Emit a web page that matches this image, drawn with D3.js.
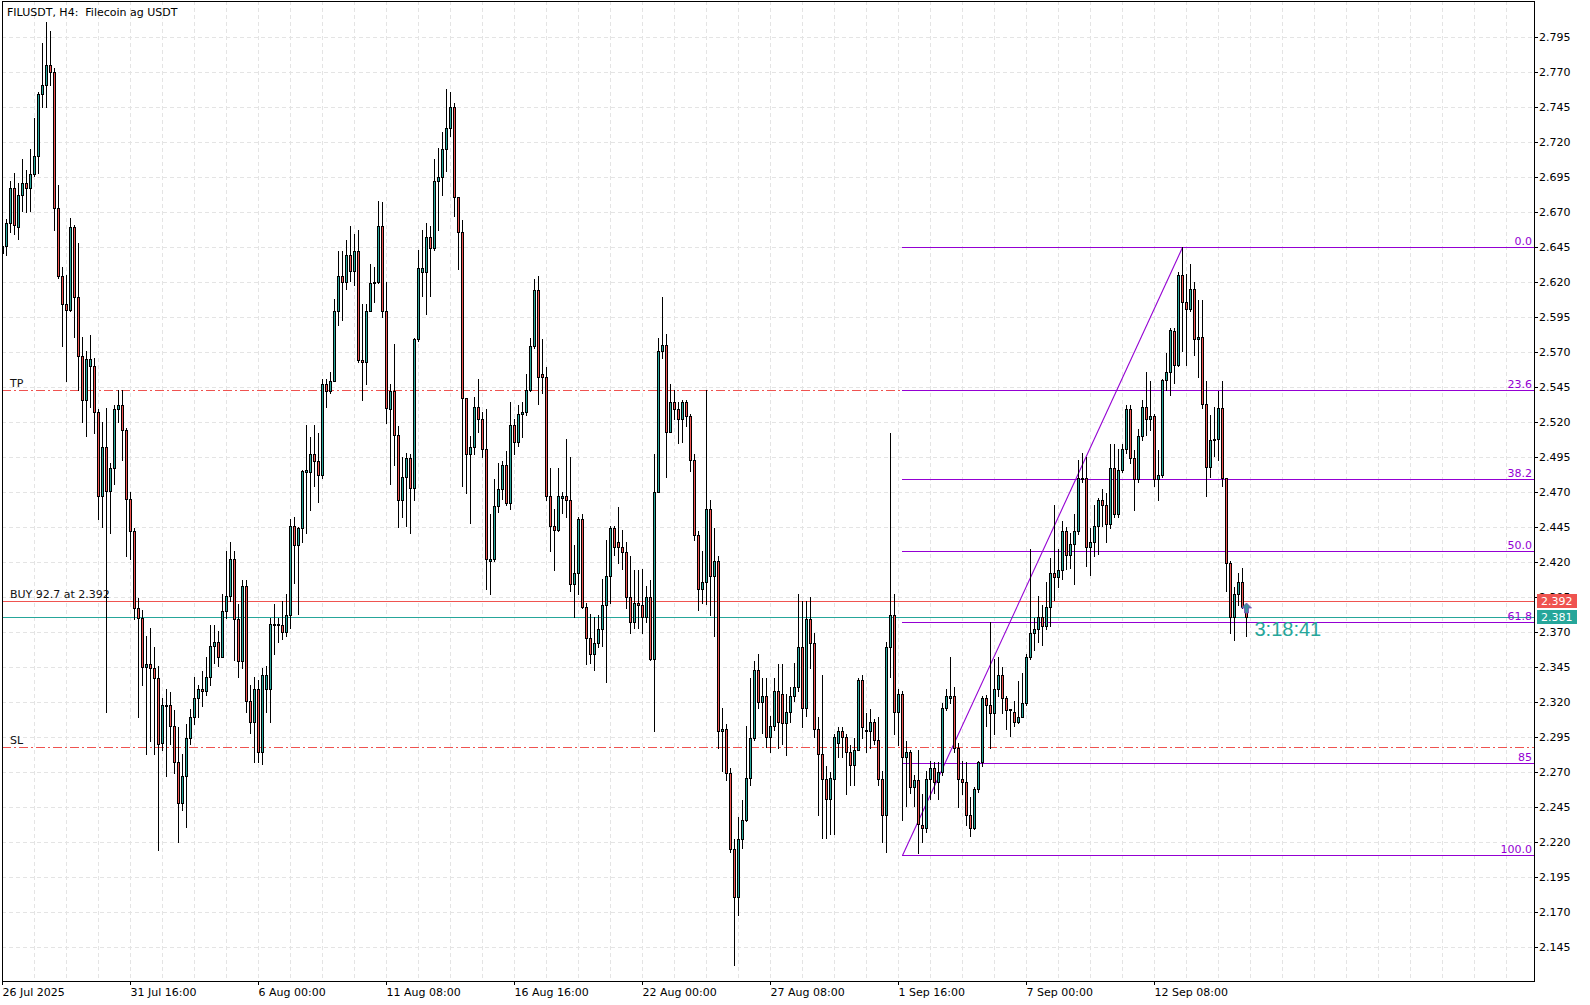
<!DOCTYPE html>
<html>
<head>
<meta charset="utf-8">
<script src="https://cdn.jsdelivr.net/npm/d3@7"></script>
<style>
  body { margin: 0; background: #fff; }
  svg { display: block; font-family: "DejaVu Sans", sans-serif; }
  .grid line { stroke: #e4e4e4; stroke-dasharray: 4,3; shape-rendering: crispEdges; }
  .crisp { shape-rendering: crispEdges; }
</style>
</head>
<body>
<div id="chart"></div>
<script>
// H4 bars, one label every 32 bars
var timeLabels = ["26 Jul 2025", "31 Jul 16:00", "6 Aug 00:00", "11 Aug 08:00", "16 Aug 16:00",
  "22 Aug 00:00", "27 Aug 08:00", "1 Sep 16:00", "7 Sep 00:00", "12 Sep 08:00"];

var priceTicks = [2.145, 2.170, 2.195, 2.220, 2.245, 2.270, 2.295, 2.320, 2.345, 2.370, 2.395,
  2.420, 2.445, 2.470, 2.495, 2.520, 2.545, 2.570, 2.595, 2.620, 2.645, 2.670, 2.695, 2.720,
  2.745, 2.770, 2.795];

var opens = [
  2.641,2.646,2.662,2.687,2.659,2.682,2.691,2.687,2.697,2.710,
  2.754,2.761,2.775,2.770,2.673,2.624,2.604,2.600,2.659,2.609,
  2.567,2.536,2.560,2.560,2.527,2.467,2.502,2.471,2.487,2.529,
  2.532,2.514,2.465,2.442,2.387,2.380,2.345,2.347,2.344,2.337,
  2.291,2.317,2.318,2.303,2.277,2.248,2.267,2.294,2.309,2.323,
  2.329,2.328,2.338,2.360,2.363,2.352,2.385,2.396,2.422,2.379,
  2.349,2.403,2.321,2.306,2.329,2.284,2.329,2.329,2.375,2.376,
  2.375,2.370,2.382,2.446,2.432,2.444,2.484,2.484,2.497,2.492,
  2.482,2.547,2.542,2.549,2.599,2.624,2.620,2.639,2.628,2.642,
  2.564,2.563,2.599,2.619,2.620,2.660,2.599,2.529,2.542,2.511,
  2.464,2.481,2.494,2.473,2.579,2.627,2.627,2.652,2.644,2.692,
  2.695,2.715,2.730,2.745,2.681,2.656,2.537,2.497,2.502,2.531,
  2.522,2.501,2.421,2.422,2.460,2.472,2.489,2.462,2.518,2.506,
  2.526,2.527,2.543,2.574,2.614,2.554,2.552,2.467,2.446,2.443,
  2.466,2.467,2.464,2.404,2.412,2.451,2.388,2.366,2.354,2.362,
  2.372,2.389,2.410,2.444,2.434,2.431,2.427,2.395,2.377,2.391,
  2.389,2.381,2.395,2.351,2.470,2.571,2.575,2.513,2.534,2.529,
  2.522,2.534,2.524,2.493,2.439,2.401,2.406,2.458,2.410,2.421,
  2.299,2.301,2.269,2.215,2.181,2.222,2.236,2.266,2.294,2.343,
  2.320,2.324,2.295,2.303,2.328,2.326,2.305,2.313,2.324,2.331,
  2.359,2.316,2.379,2.362,2.301,2.283,2.265,2.251,2.265,2.291,
  2.299,2.295,2.284,2.275,2.286,2.336,2.300,2.299,2.306,2.293,
  2.265,2.239,2.359,2.382,2.313,2.326,2.281,2.284,2.259,2.264,
  2.232,2.230,2.265,2.273,2.263,2.270,2.316,2.323,2.324,2.287,
  2.265,2.263,2.239,2.230,2.258,2.277,2.323,2.318,2.312,2.329,
  2.339,2.323,2.314,2.313,2.306,2.309,2.319,2.352,2.369,2.372,
  2.381,2.374,2.388,2.412,2.409,2.414,2.442,2.425,2.433,2.442,
  2.479,2.480,2.431,2.434,2.446,2.464,2.461,2.447,2.487,2.454,
  2.486,2.501,2.529,2.494,2.479,2.510,2.531,2.522,2.524,2.479,
  2.482,2.550,2.556,2.585,2.561,2.625,2.606,2.601,2.615,2.579,
  2.581,2.533,2.488,2.507,2.508,2.530,2.480,2.419,2.381,2.397,
  2.406,2.388];

var highs = [
  2.648,2.665,2.692,2.698,2.691,2.708,2.700,2.715,2.737,2.756,
  2.791,2.806,2.799,2.773,2.689,2.631,2.625,2.666,2.661,2.648,
  2.581,2.571,2.582,2.566,2.529,2.520,2.530,2.491,2.532,2.543,
  2.543,2.516,2.470,2.444,2.394,2.386,2.367,2.373,2.359,2.346,
  2.323,2.329,2.327,2.314,2.302,2.283,2.304,2.315,2.338,2.332,
  2.342,2.352,2.375,2.375,2.371,2.397,2.428,2.434,2.428,2.390,
  2.407,2.407,2.332,2.338,2.336,2.344,2.346,2.380,2.390,2.380,
  2.392,2.397,2.451,2.452,2.445,2.486,2.518,2.509,2.518,2.512,
  2.551,2.551,2.556,2.608,2.642,2.642,2.650,2.660,2.654,2.657,
  2.604,2.604,2.633,2.631,2.678,2.677,2.620,2.547,2.576,2.517,
  2.495,2.498,2.497,2.580,2.643,2.657,2.662,2.660,2.708,2.716,
  2.727,2.758,2.756,2.748,2.681,2.664,2.537,2.510,2.538,2.551,
  2.527,2.529,2.454,2.479,2.491,2.492,2.499,2.534,2.522,2.532,
  2.534,2.554,2.580,2.622,2.624,2.579,2.559,2.487,2.458,2.487,
  2.470,2.508,2.495,2.432,2.452,2.454,2.391,2.383,2.381,2.382,
  2.408,2.436,2.446,2.446,2.459,2.443,2.434,2.424,2.414,2.414,
  2.415,2.403,2.407,2.497,2.580,2.609,2.583,2.547,2.543,2.534,
  2.536,2.536,2.526,2.497,2.442,2.428,2.543,2.464,2.444,2.424,
  2.316,2.304,2.273,2.222,2.238,2.250,2.303,2.337,2.349,2.354,
  2.337,2.337,2.310,2.337,2.347,2.347,2.326,2.331,2.348,2.397,
  2.392,2.392,2.395,2.369,2.309,2.339,2.274,2.270,2.297,2.302,
  2.302,2.297,2.289,2.294,2.337,2.339,2.312,2.315,2.308,2.309,
  2.271,2.363,2.512,2.397,2.329,2.328,2.292,2.286,2.268,2.286,
  2.254,2.271,2.278,2.277,2.277,2.319,2.329,2.352,2.331,2.291,
  2.278,2.277,2.252,2.259,2.278,2.324,2.325,2.377,2.351,2.352,
  2.345,2.324,2.315,2.321,2.335,2.341,2.354,2.429,2.380,2.396,
  2.389,2.406,2.423,2.461,2.429,2.449,2.445,2.441,2.454,2.493,
  2.498,2.495,2.444,2.461,2.466,2.472,2.469,2.504,2.504,2.501,
  2.504,2.532,2.532,2.500,2.515,2.536,2.556,2.549,2.526,2.500,
  2.551,2.569,2.587,2.587,2.627,2.645,2.626,2.633,2.620,2.607,
  2.607,2.549,2.525,2.531,2.542,2.549,2.480,2.421,2.402,2.412,
  2.416,2.390];

var lows = [
  2.635,2.639,2.656,2.654,2.651,2.671,2.670,2.671,2.696,2.698,
  2.745,2.745,2.761,2.657,2.623,2.574,2.549,2.599,2.581,2.543,
  2.520,2.510,2.531,2.512,2.451,2.445,2.313,2.441,2.476,2.520,
  2.493,2.424,2.422,2.379,2.309,2.332,2.283,2.292,2.283,2.214,
  2.286,2.267,2.290,2.269,2.220,2.243,2.231,2.290,2.304,2.309,
  2.317,2.325,2.332,2.348,2.346,2.352,2.380,2.392,2.350,2.338,
  2.344,2.313,2.298,2.277,2.277,2.276,2.313,2.306,2.354,2.363,
  2.365,2.367,2.373,2.405,2.383,2.434,2.441,2.457,2.474,2.463,
  2.480,2.531,2.541,2.549,2.589,2.593,2.615,2.621,2.618,2.563,
  2.536,2.547,2.599,2.606,2.619,2.595,2.519,2.476,2.489,2.445,
  2.452,2.446,2.441,2.464,2.578,2.610,2.597,2.610,2.643,2.657,
  2.682,2.699,2.724,2.667,2.629,2.474,2.469,2.448,2.497,2.513,
  2.495,2.401,2.397,2.421,2.456,2.465,2.461,2.458,2.497,2.503,
  2.509,2.525,2.542,2.573,2.533,2.541,2.464,2.428,2.414,2.442,
  2.455,2.452,2.399,2.381,2.397,2.387,2.347,2.348,2.343,2.359,
  2.360,2.334,2.391,2.425,2.419,2.415,2.387,2.369,2.373,2.373,
  2.369,2.377,2.350,2.299,2.470,2.566,2.481,2.513,2.522,2.505,
  2.506,2.517,2.485,2.436,2.386,2.391,2.390,2.382,2.367,2.287,
  2.271,2.264,2.213,2.132,2.168,2.216,2.235,2.261,2.293,2.316,
  2.298,2.288,2.284,2.300,2.287,2.290,2.282,2.306,2.321,2.328,
  2.302,2.310,2.344,2.295,2.239,2.223,2.223,2.226,2.226,2.281,
  2.281,2.254,2.261,2.261,2.286,2.294,2.284,2.287,2.290,2.261,
  2.220,2.213,2.338,2.297,2.289,2.236,2.246,2.255,2.246,2.212,
  2.220,2.227,2.251,2.255,2.251,2.268,2.314,2.319,2.284,2.245,
  2.254,2.232,2.224,2.229,2.256,2.274,2.303,2.287,2.297,2.324,
  2.312,2.301,2.296,2.303,2.305,2.309,2.318,2.351,2.357,2.363,
  2.361,2.372,2.374,2.393,2.402,2.408,2.415,2.416,2.404,2.440,
  2.477,2.417,2.411,2.424,2.426,2.446,2.434,2.444,2.452,2.452,
  2.484,2.498,2.491,2.457,2.477,2.507,2.511,2.514,2.474,2.464,
  2.481,2.543,2.539,2.548,2.560,2.571,2.561,2.599,2.568,2.552,
  2.530,2.467,2.481,2.496,2.493,2.474,2.399,2.369,2.364,2.389,
  2.387,2.367];

var closes = [
  2.646,2.662,2.687,2.661,2.682,2.691,2.687,2.697,2.710,2.754,
  2.761,2.775,2.770,2.673,2.624,2.604,2.600,2.659,2.609,2.567,
  2.536,2.565,2.565,2.527,2.467,2.502,2.471,2.487,2.529,2.532,
  2.514,2.465,2.442,2.387,2.380,2.345,2.347,2.344,2.337,2.290,
  2.318,2.318,2.303,2.277,2.248,2.267,2.294,2.309,2.323,2.329,
  2.328,2.338,2.360,2.363,2.352,2.385,2.396,2.422,2.379,2.349,
  2.403,2.321,2.306,2.329,2.284,2.339,2.339,2.376,2.376,2.375,
  2.370,2.382,2.446,2.432,2.444,2.485,2.486,2.497,2.492,2.482,
  2.547,2.542,2.549,2.599,2.624,2.620,2.639,2.628,2.642,2.564,
  2.563,2.599,2.619,2.620,2.660,2.599,2.530,2.542,2.511,2.464,
  2.481,2.494,2.473,2.579,2.630,2.630,2.652,2.644,2.692,2.695,
  2.715,2.730,2.745,2.681,2.656,2.537,2.497,2.502,2.531,2.522,
  2.501,2.422,2.422,2.460,2.472,2.489,2.462,2.518,2.506,2.526,
  2.527,2.543,2.574,2.614,2.552,2.552,2.467,2.446,2.443,2.467,
  2.467,2.464,2.404,2.412,2.451,2.388,2.366,2.354,2.362,2.372,
  2.389,2.410,2.444,2.431,2.431,2.427,2.395,2.377,2.391,2.389,
  2.381,2.395,2.351,2.470,2.571,2.575,2.513,2.534,2.529,2.522,
  2.534,2.524,2.493,2.439,2.401,2.406,2.458,2.410,2.421,2.299,
  2.301,2.269,2.215,2.181,2.222,2.236,2.266,2.294,2.343,2.320,
  2.324,2.295,2.303,2.328,2.306,2.305,2.313,2.324,2.331,2.359,
  2.316,2.379,2.362,2.301,2.283,2.265,2.251,2.266,2.295,2.299,
  2.295,2.284,2.275,2.286,2.336,2.302,2.299,2.306,2.293,2.265,
  2.239,2.359,2.382,2.313,2.326,2.281,2.284,2.259,2.264,2.233,
  2.230,2.265,2.273,2.263,2.270,2.316,2.324,2.324,2.287,2.265,
  2.263,2.239,2.230,2.258,2.277,2.323,2.318,2.312,2.329,2.339,
  2.323,2.314,2.315,2.306,2.309,2.319,2.352,2.369,2.372,2.381,
  2.374,2.388,2.412,2.409,2.414,2.442,2.425,2.433,2.442,2.480,
  2.480,2.431,2.434,2.446,2.464,2.461,2.447,2.487,2.454,2.486,
  2.501,2.529,2.494,2.479,2.510,2.531,2.522,2.524,2.479,2.482,
  2.550,2.556,2.586,2.561,2.625,2.606,2.601,2.615,2.579,2.581,
  2.533,2.488,2.507,2.508,2.530,2.480,2.419,2.381,2.397,2.406,
  2.388,2.381];

// Fibonacci retracement drawn from the swing low to the swing high
var fibLevels = [0, 23.6, 38.2, 50, 61.8, 85, 100];
var fibLabels = ["0.0", "23.6", "38.2", "50.0", "61.8", "85", "100.0"];
var fibHigh = 2.645, fibLow = 2.211;
var fibStartBar = 225, fibEndBar = 295;

// trade levels
var takeProfit = 2.543, stopLoss = 2.288;
var entryPrice = 2.392, bidPrice = 2.381;
var entryText = "BUY 92.7 at 2.392";
var countdown = "3:18:41";


var CandleChart = function(opts) {
  this.element = opts.element;
  this.width   = opts.width;
  this.height  = opts.height;
  this.frame   = opts.frame;   // plot area edges in px
  this.bars    = opts.bars;    // bars that fit in the plot area
  this.priceRange = opts.priceRange;

  this.bull = "#26a69a";
  this.bear = "#ef5350";
  this.fibColor = "#9400d3";

  this.draw();
}

CandleChart.prototype.draw = function() {
  this.svg = this.element.append('svg')
    .attr('width', this.width)
    .attr('height', this.height);

  this.createScales();
  this.addGrid();
  this.addLevels();
  this.addFib();
  this.addCandles();
  this.addAxes();
  this.addLabels();
}

CandleChart.prototype.createScales = function() {
  var f = this.frame;
  this.xScale = d3.scaleLinear()
    .domain([0, this.bars])
    .range([f.left, f.right]);

  this.yScale = d3.scaleLinear()
    .domain(this.priceRange)
    .range([f.bottom, f.top + 1]);

  var _this = this;
  this.px = function(i) { return Math.round(_this.xScale(i)); };
  this.py = function(p) { return Math.round(_this.yScale(p)); };
}

CandleChart.prototype.addGrid = function() {
  var _this = this, f = this.frame;
  var g = this.svg.append('g').attr('class', 'grid');

  g.selectAll('line.h').data(priceTicks).join('line')
    .attr('class', 'h')
    .attr('x1', f.left).attr('x2', f.right)
    .attr('y1', d => _this.py(d) + 0.5)
    .attr('y2', d => _this.py(d) + 0.5);

  g.selectAll('line.v').data(d3.range(8, this.bars, 8)).join('line')
    .attr('class', 'v')
    .attr('x1', d => _this.px(d) + 0.5)
    .attr('x2', d => _this.px(d) + 0.5)
    .attr('y1', f.top).attr('y2', f.bottom);
}

CandleChart.prototype.hLine = function(price, x0, x1, color, dash) {
  var y = this.py(price) + 0.5;
  this.svg.append('line')
    .attr('class', 'crisp')
    .attr('x1', x0).attr('x2', x1)
    .attr('y1', y).attr('y2', y)
    .attr('stroke', color)
    .attr('stroke-dasharray', dash || null);
}

CandleChart.prototype.addLevels = function() {
  var f = this.frame;
  var levelColor = "#ef5350";

  this.hLine(takeProfit, f.left, f.right, levelColor, "9,3,2,3");
  this.hLine(stopLoss, f.left, f.right, levelColor, "9,3,2,3");
  this.hLine(entryPrice, f.left, f.right, levelColor);
  this.hLine(bidPrice, f.left, f.right, this.bull);

  var texts = [["TP", takeProfit], ["SL", stopLoss], [entryText, entryPrice]];
  this.svg.selectAll('text.level').data(texts).join('text')
    .attr('class', 'level')
    .attr('x', 10)
    .attr('y', d => this.py(d[1]) - 3)
    .attr('font-size', 11)
    .attr('fill', '#111')
    .text(d => d[0]);
}

CandleChart.prototype.addFib = function() {
  var _this = this, f = this.frame;
  var x0 = this.px(fibStartBar);

  fibLevels.forEach(function(level, i) {
    var price = fibHigh - (fibHigh - fibLow) * level / 100;
    _this.hLine(price, x0, f.right, _this.fibColor);
    _this.svg.append('text')
      .attr('x', f.right - 2)
      .attr('y', _this.py(price) - 2)
      .attr('text-anchor', 'end')
      .attr('font-size', 11)
      .attr('fill', _this.fibColor)
      .text(fibLabels[i]);
  });

  // trend line of the retracement
  this.svg.append('line')
    .attr('x1', x0 + 0.5).attr('y1', this.py(fibLow) + 0.5)
    .attr('x2', this.px(fibEndBar) + 0.5).attr('y2', this.py(fibHigh) + 0.5)
    .attr('stroke', this.fibColor)
    .attr('stroke-width', 1.1);
}

CandleChart.prototype.addCandles = function() {
  var _this = this, f = this.frame;

  this.svg.append('clipPath').attr('id', 'plotClip')
    .append('rect')
    .attr('x', f.left).attr('y', f.top)
    .attr('width', f.right - f.left).attr('height', f.bottom - f.top);

  var g = this.svg.append('g')
    .attr('class', 'crisp')
    .attr('clip-path', 'url(#plotClip)');

  var candles = g.selectAll('g.candle').data(d3.range(opens.length)).join('g')
    .attr('class', 'candle');

  // wick
  candles.append('rect')
    .attr('x', i => _this.px(i))
    .attr('y', i => _this.py(highs[i]))
    .attr('width', 1)
    .attr('height', i => _this.py(lows[i]) - _this.py(highs[i]) + 1)
    .attr('fill', '#000');

  // body outline
  candles.append('rect')
    .attr('x', i => _this.px(i) - 1)
    .attr('y', i => _this.py(Math.max(opens[i], closes[i])))
    .attr('width', 3)
    .attr('height', i => Math.abs(_this.py(opens[i]) - _this.py(closes[i])) + 1)
    .attr('fill', '#000');

  // body fill
  candles.filter(i => Math.abs(_this.py(opens[i]) - _this.py(closes[i])) >= 2)
    .append('rect')
    .attr('x', i => _this.px(i))
    .attr('y', i => _this.py(Math.max(opens[i], closes[i])) + 1)
    .attr('width', 1)
    .attr('height', i => Math.abs(_this.py(opens[i]) - _this.py(closes[i])) - 1)
    .attr('fill', i => closes[i] >= opens[i] ? _this.bull : _this.bear);
}

CandleChart.prototype.addAxes = function() {
  var _this = this, f = this.frame;

  var yAxis = d3.axisRight(this.yScale)
    .tickValues(priceTicks)
    .tickFormat(d3.format(".3f"))
    .tickSize(4)
    .tickSizeOuter(0)
    .tickPadding(1);

  var xAxis = d3.axisBottom(this.xScale)
    .tickValues(timeLabels.map((d, i) => i * 32))
    .tickFormat((d, i) => timeLabels[i])
    .tickSize(4)
    .tickSizeOuter(0);

  var ya = this.svg.append('g')
    .attr('transform', 'translate(' + f.right + ',0)')
    .call(yAxis);

  var xa = this.svg.append('g')
    .attr('transform', 'translate(0,' + f.bottom + ')')
    .call(xAxis);

  [ya, xa].forEach(function(a) {
    a.select('.domain').remove();
    a.attr('font-family', '"DejaVu Sans", sans-serif').attr('font-size', 11);
    a.selectAll('line').attr('stroke', '#000').attr('class', 'crisp');
    a.selectAll('text').attr('fill', '#000');
  });
  xa.selectAll('text').attr('text-anchor', 'start');

  // chart frame
  this.svg.append('rect')
    .attr('class', 'crisp')
    .attr('x', f.left + 0.5).attr('y', f.top + 0.5)
    .attr('width', f.right - f.left).attr('height', f.bottom - f.top)
    .attr('fill', 'none')
    .attr('stroke', '#000');
}

CandleChart.prototype.addLabels = function() {
  var _this = this, f = this.frame;

  this.svg.append('text')
    .attr('x', 7).attr('y', 16)
    .attr('font-size', 11)
    .style('white-space', 'pre')
    .text("FILUSDT, H4:  Filecoin ag USDT");

  // price tags on the scale
  [[entryPrice, this.bear], [bidPrice, this.bull]].forEach(function(d) {
    var y = _this.py(d[0]);
    _this.svg.append('rect')
      .attr('class', 'crisp')
      .attr('x', f.right + 3).attr('y', y - 7)
      .attr('width', 40).attr('height', 14)
      .attr('fill', d[1]);
    _this.svg.append('text')
      .attr('x', f.right + 7).attr('y', y + 4)
      .attr('font-size', 11)
      .attr('fill', '#fff')
      .text(d3.format(".3f")(d[0]));
  });

  // buy marker on the last bar and the bar timer
  var lastX = this.px(opens.length - 1) + 0.5;
  var ay = this.py(entryPrice) + 2;
  this.svg.append('path')
    .attr('d', 'M' + lastX + ',' + ay + 'l5,5h-3v5h-4v-5h-3z')
    .attr('fill', '#3f8fa0')
    .attr('stroke', '#7b3fb5')
    .attr('stroke-width', 0.8);

  this.svg.append('text')
    .attr('x', lastX + 8)
    .attr('y', this.py(bidPrice) + 19)
    .attr('font-family', '"Liberation Sans", Arial, sans-serif')
    .attr('font-size', 20)
    .attr('fill', this.bull)
    .text(countdown);
}

new CandleChart({
  element: d3.select('#chart'),
  width: 1590,
  height: 1005,
  frame: {left: 2, top: 1, right: 1534, bottom: 981},
  bars: 383,
  priceRange: [2.120714, 2.82]
});
</script>
</body>
</html>
